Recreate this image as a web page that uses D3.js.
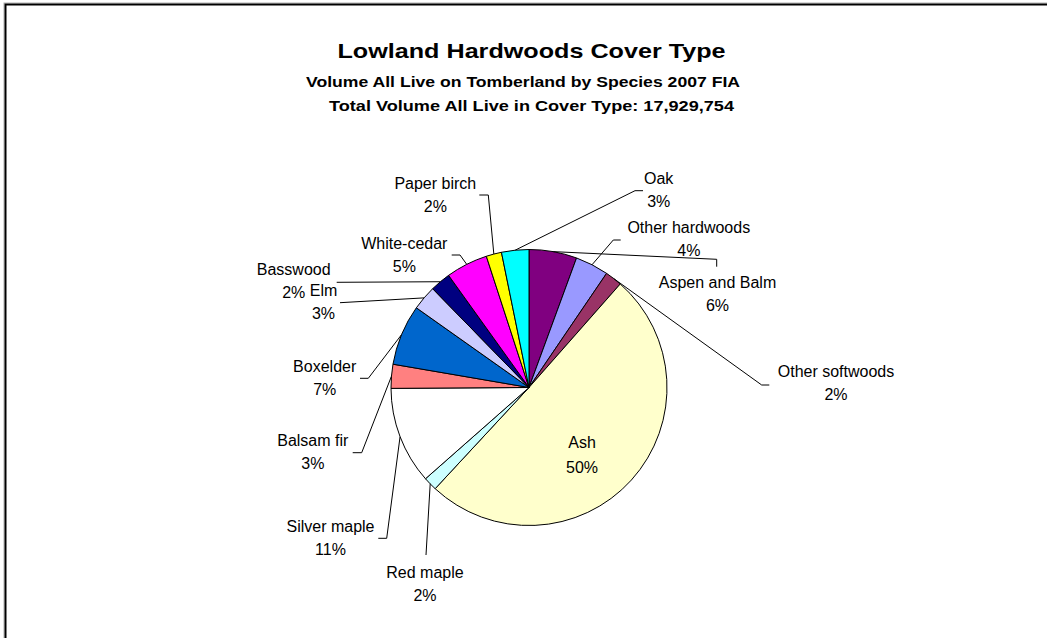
<!DOCTYPE html>
<html>
<head>
<meta charset="utf-8">
<script src="https://cdn.jsdelivr.net/npm/d3@7"></script>
<style>
  html, body { margin: 0; padding: 0; background: #fff; }
  svg { display: block; font-family: "Liberation Sans", Arial, sans-serif; }
</style>
</head>
<body>
<svg id="chart" width="1047" height="638"></svg>
<script>
// ---- data ----
const species = ["Aspen and Balm", "Other hardwoods", "Other softwoods", "Ash", "Red maple",
  "Silver maple", "Balsam fir", "Boxelder", "Elm", "Basswood", "White-cedar", "Paper birch", "Oak"];
const volumes = [1004066, 699260, 358595, 9036596, 286876,
  2043992, 502033, 1273013, 519963, 430314, 878558, 322736, 573752];
const colors = ["#800080", "#9999FF", "#993366", "#FFFFCC", "#CCFFFF",
  "#FFFFFF", "#FF8080", "#0066CC", "#CCCCFF", "#000080", "#FF00FF", "#FFFF00", "#00FFFF"];
const titleText = "Lowland Hardwoods Cover Type";
const subtitleLines = ["Volume All Live on Tomberland by Species 2007 FIA",
  "Total Volume All Live in Cover Type: 17,929,754"];

// ---- layout (label centre x, first baseline y, leader points from label toward slice) ----
const labelLayout = [
  { x: 717.5, y: 288.3, leader: [[716.7, 266.7], [716.7, 259.3]] },
  { x: 688.8, y: 232.7, leader: [[620.7, 240], [613.3, 240]] },
  { x: 836, y: 376.7, leader: [[769.3, 385], [761.7, 385]] },
  { x: 582, y: 448.3, leader: null, gap: 25 },
  { x: 425, y: 577.7, leader: [[426, 555]] },
  { x: 330.5, y: 531.7, leader: [[378.3, 538.3], [386.7, 538.3]] },
  { x: 312.8, y: 446, leader: [[352.7, 452.7], [361.7, 452.7]] },
  { x: 324.7, y: 372.3, leader: [[360, 378.3], [368.3, 378.3]] },
  { x: 323.5, y: 295.7, leader: [[340, 302.7]] },
  { x: 293.7, y: 275, leader: [[336.7, 282.3]] },
  { x: 404.3, y: 249.3, leader: [[451.7, 255], [460, 255]] },
  { x: 435.3, y: 189.3, leader: [[479.3, 195], [488.3, 195]] },
  { x: 658.7, y: 184, leader: [[643, 190.7], [635, 190.7]] }
];

const svg = d3.select("#chart");
const cx = 529, cy = 387.5, r = 138;

// frame
svg.append("rect").attr("x", 4).attr("y", 3).attr("width", 1100).attr("height", 700)
  .attr("fill", "none").attr("stroke", "#b0b0b0").attr("stroke-width", 1);
svg.append("rect").attr("x", 5.5).attr("y", 4.5).attr("width", 1100).attr("height", 700)
  .attr("fill", "#fff").attr("stroke", "#000").attr("stroke-width", 2);

// titles
svg.append("text").attr("x", 531.5).attr("y", 58.3).attr("text-anchor", "middle")
  .attr("font-size", 21).attr("font-weight", "bold")
  .attr("textLength", 388).attr("lengthAdjust", "spacingAndGlyphs").text(titleText);
const subPos = [{ x: 523, y: 86.7, w: 434 }, { x: 531.5, y: 111, w: 405 }];
subtitleLines.forEach((t, i) => {
  svg.append("text").attr("x", subPos[i].x).attr("y", subPos[i].y).attr("text-anchor", "middle")
    .attr("font-size", 15).attr("font-weight", "bold")
    .attr("textLength", subPos[i].w).attr("lengthAdjust", "spacingAndGlyphs").text(t);
});

// pie
const total = d3.sum(volumes);
const pie = d3.pie().sort(null).value(d => d)(volumes);
const arc = d3.arc().innerRadius(0).outerRadius(r);
const g = svg.append("g").attr("transform", `translate(${cx},${cy})`);
g.selectAll("path").data(pie).join("path")
  .attr("d", arc)
  .attr("fill", (d, i) => colors[i])
  .attr("stroke", "#000").attr("stroke-width", 1).attr("stroke-linejoin", "round");

// leaders
const line = d3.line();
pie.forEach((d, i) => {
  const L = labelLayout[i];
  if (!L.leader) return;
  const mid = (d.startAngle + d.endAngle) / 2;
  const end = [cx + r * Math.sin(mid), cy - r * Math.cos(mid)];
  svg.append("path").attr("d", line([...L.leader, end]))
    .attr("fill", "none").attr("stroke", "#000").attr("stroke-width", 1);
});

// labels
pie.forEach((d, i) => {
  const L = labelLayout[i];
  const gap = L.gap || 23;
  const pct = Math.round(d.value / total * 100) + "%";
  const t = svg.append("text").attr("text-anchor", "middle").attr("font-size", 16).attr("fill", "#000");
  t.append("tspan").attr("x", L.x).attr("y", L.y).text(species[i]);
  t.append("tspan").attr("x", L.x).attr("y", L.y + gap).text(pct);
});
</script>
</body>
</html>
